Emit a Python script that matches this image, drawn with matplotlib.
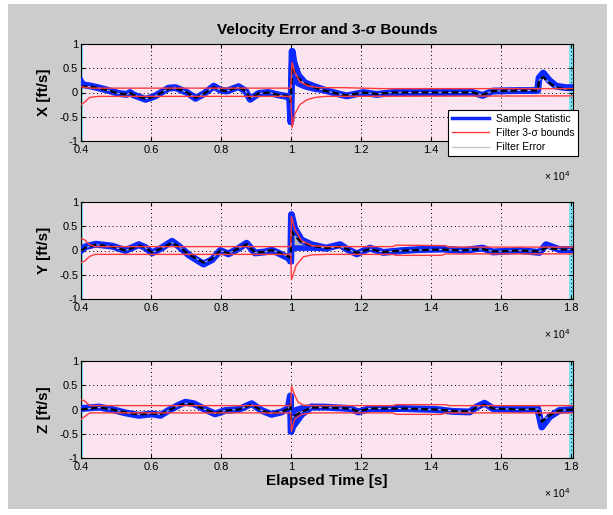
import numpy as np
import matplotlib.pyplot as plt
from matplotlib.patches import Rectangle

plt.rcParams['font.family'] = ['Liberation Sans', 'DejaVu Sans']

# ---- X channel ----
t_x = [4000, 4050, 4300, 4700, 5080, 5300, 5400, 5500, 5840, 6100, 6500, 6700, 7030, 7270, 7500,
       7790, 7980, 8160, 8500, 8700, 8830, 9070, 9350, 9640, 9870, 9960, 9990, 10030, 10080, 10200,
       10390, 10670, 10950, 11300, 11590, 12060, 12440, 12920, 13670, 14600, 15190, 15470, 15760,
       16500, 17040, 17080, 17200, 17370, 17570, 17850, 18050]
x_stat = [0.22, 0.16, 0.13, 0.06, -0.02, -0.04, 0.0, -0.05, -0.14, -0.08, 0.09, 0.10, 0.0, -0.12, -0.03,
          0.13, 0.05, 0.03, 0.12, 0.03, -0.14, -0.02, 0.0, -0.05, -0.08, -0.12, -0.6, 0.85, 0.62, 0.36,
          0.2, 0.12, 0.05, -0.02, -0.07, 0.0, -0.04, 0.0, 0.0, 0.0, 0.0, -0.06, 0.03,
          0.04, 0.04, 0.3, 0.4, 0.25, 0.13, 0.1, 0.1]
x_mean = [0.1, 0.12, 0.12, 0.06, -0.02, -0.04, -0.01, -0.05, -0.13, -0.08, 0.08, 0.09, 0.0, -0.11, -0.03,
          0.11, 0.05, 0.03, 0.11, 0.03, -0.12, -0.02, 0.0, -0.05, -0.07, -0.1, -0.2, 0.55, 0.45, 0.3,
          0.18, 0.1, 0.04, -0.02, -0.06, 0.0, -0.03, 0.0, 0.0, 0.0, 0.0, -0.05, 0.03,
          0.04, 0.04, 0.25, 0.32, 0.2, 0.1, 0.07, 0.07]
x_gap_t = [9990, 10010, 10030, 10080, 10200, 10390, 10670, 10950]
x_gap_lo = [-0.6, 0.3, 0.35, 0.28, 0.18, 0.12, 0.07, 0.04]
x_gap_hi = [-0.6, 0.5, 0.85, 0.62, 0.36, 0.2, 0.12, 0.05]
x_up_t = [4000, 4150, 4300, 9990, 10030, 10100, 10250, 10500, 10800, 11500, 12000, 12600, 18050]
x_up = [0.12, 0.1, 0.09, 0.09, 0.62, 0.42, 0.22, 0.13, 0.1, 0.1, 0.09, 0.08, 0.08]
x_lo_t = [4000, 4100, 4250, 4500, 9990, 10030, 10100, 10250, 10450, 10700, 11000, 18050]
x_lo = [-0.25, -0.2, -0.1, -0.08, -0.08, -0.72, -0.45, -0.25, -0.15, -0.1, -0.08, -0.07]

# ---- Y channel ----
t_y = [4000, 4130, 4420, 4890, 5270, 5650, 5840, 6030, 6320, 6600, 6790, 7075, 7500, 7740, 7975,
       8210, 8490, 8730, 8965, 9255, 9440, 9630, 9915, 9990, 10010, 10100, 10290, 10580, 11000, 11400,
       11590, 11875, 12250, 12630, 13200, 13680, 14330, 14900, 15470, 15760, 16520, 17090, 17280,
       17660, 18050]
y_stat = [0.0, 0.08, 0.13, 0.09, 0.0, 0.12, 0.06, -0.05, 0.06, 0.19, 0.09, -0.09, -0.28, -0.19, 0.0,
          -0.07, 0.04, 0.15, -0.05, -0.03, 0.01, -0.05, -0.15, -0.22, 0.74, 0.46, 0.22, 0.12, 0.05, 0.12,
          0.03, -0.07, 0.05, -0.04, 0.0, 0.02, 0.03, 0.0, 0.05, -0.03, 0.0, -0.04, 0.12,
          0.02, 0.02]
y_mean = [0.0, 0.06, 0.12, 0.08, 0.0, 0.1, 0.06, -0.04, 0.05, 0.16, 0.08, -0.08, -0.25, -0.17, 0.0,
          -0.06, 0.04, 0.13, -0.04, -0.03, 0.01, -0.04, -0.12, -0.15, 0.4, 0.3, 0.18, 0.1, 0.05, 0.08,
          0.03, -0.05, 0.03, -0.03, 0.0, 0.01, 0.02, 0.0, 0.03, -0.02, 0.0, -0.02, 0.06,
          0.02, 0.02]
y_gap_t = [9990, 10010, 10100, 10290, 10580, 11000]
y_gap_lo = [-0.22, 0.02, 0.05, 0.05, 0.05, 0.04]
y_gap_hi = [-0.22, 0.74, 0.46, 0.22, 0.12, 0.05]
y_up_t = [4000, 4100, 4250, 4400, 9990, 10010, 10100, 10300, 10600, 11000, 12900, 13000, 14400, 14500, 18050]
y_up = [0.25, 0.22, 0.12, 0.08, 0.08, 0.7, 0.45, 0.2, 0.1, 0.08, 0.08, 0.11, 0.1, 0.07, 0.07]
y_lo_t = [4000, 4100, 4250, 4400, 9990, 10010, 10150, 10350, 10600, 11000, 12900, 13000, 14300, 14400, 18050]
y_lo = [-0.25, -0.22, -0.12, -0.08, -0.08, -0.6, -0.3, -0.13, -0.09, -0.08, -0.08, -0.1, -0.1, -0.07, -0.07]

# ---- Z channel ----
t_z = [4000, 4510, 4890, 5270, 5650, 6030, 6270, 6500, 6790, 6980, 7220, 7550, 7830, 8120, 8500,
       8875, 9160, 9440, 9730, 9915, 9980, 10000, 10050, 10300, 10580, 10950, 11680, 11920, 12250, 13200,
       14150, 14620, 15100, 15290, 15525, 15760, 16520, 17040, 17160, 17380, 17660, 18050]
z_stat = [0.02, 0.05, 0.0, -0.07, -0.12, -0.09, -0.12, -0.02, 0.09, 0.15, 0.12, 0.0, -0.09, -0.02, 0.0,
          0.12, -0.02, -0.1, -0.05, 0.02, 0.28, -0.45, -0.35, -0.1, 0.05, 0.05, 0.02, -0.05, 0.02, 0.02,
          0.0, -0.04, -0.05, 0.05, 0.13, 0.02, 0.0, 0.02, -0.36, -0.15, -0.02, 0.0]
z_mean = [0.0, 0.04, 0.0, -0.06, -0.1, -0.08, -0.1, -0.02, 0.08, 0.13, 0.1, 0.0, -0.08, -0.02, 0.0,
          0.1, -0.02, -0.08, -0.04, 0.01, 0.1, -0.2, -0.15, -0.05, 0.04, 0.04, 0.02, -0.04, 0.02, 0.02,
          0.0, -0.03, -0.04, 0.04, 0.1, 0.02, 0.0, 0.01, -0.25, -0.12, -0.02, 0.0]
z_gap_t = [10000, 10050, 10150, 10300, 10580]
z_gap_lo = [-0.45, -0.35, -0.22, -0.1, 0.05]
z_gap_hi = [-0.45, -0.05, 0.0, 0.03, 0.05]
z_up_t = [4000, 4100, 4250, 9990, 10010, 10100, 10200, 10350, 10600, 12900, 13000, 14400, 14500, 18050]
z_up = [0.2, 0.18, 0.08, 0.08, 0.48, 0.3, 0.15, 0.09, 0.08, 0.08, 0.1, 0.1, 0.08, 0.08]
z_lo_t = [4000, 4100, 4250, 9990, 10010, 10100, 10300, 10600, 12900, 13000, 14300, 14400, 18050]
z_lo = [-0.2, -0.15, -0.07, -0.07, -0.45, -0.2, -0.1, -0.07, -0.07, -0.1, -0.1, -0.07, -0.07]

xticks = [4000, 6000, 8000, 10000, 12000, 14000, 16000, 18000]
xtick_labels = ['0.4', '0.6', '0.8', '1', '1.2', '1.4', '1.6', '1.8']
yticks = [-1, -0.5, 0, 0.5, 1]
ytick_labels = ['-1', '-0.5', '0', '0.5', '1']

BLUE = '#0a28ff'
RED = '#ff3a3a'
GRAY = '#c8c8c8'
PINK = '#fbe4ef'
CYAN = '#7fe3f0'

fig = plt.figure(figsize=(6.13, 5.15), dpi=100, facecolor='white')
fig.patches.append(Rectangle((8 / 613, 1 - 509 / 515), 599 / 613, 505 / 515,
                             transform=fig.transFigure, facecolor='#cccccc',
                             edgecolor='none', zorder=-10))

left, width, height = 81 / 613, 492 / 613, 97 / 515
bottoms = [1 - 141 / 515, 1 - 299 / 515, 1 - 458 / 515]

panels = [
    ('X [ft/s]', t_x, x_stat, x_mean, x_gap_t, x_gap_lo, x_gap_hi, x_up_t, x_up, x_lo_t, x_lo),
    ('Y [ft/s]', t_y, y_stat, y_mean, y_gap_t, y_gap_lo, y_gap_hi, y_up_t, y_up, y_lo_t, y_lo),
    ('Z [ft/s]', t_z, z_stat, z_mean, z_gap_t, z_gap_lo, z_gap_hi, z_up_t, z_up, z_lo_t, z_lo),
]

axes = []
for b, (lab, t, st, mn, gt, glo, ghi, ut, up, lt, lo) in zip(bottoms, panels):
    ax = fig.add_axes([left, b, width, height], facecolor=PINK)
    ax.axvspan(4000, 4050, color=CYAN, lw=0, zorder=0)
    ax.axvspan(17930, 18050, color=CYAN, lw=0, zorder=0)
    ax.fill_between(gt, glo, ghi, color='#b4b4b4', lw=0, zorder=2)
    ax.plot(t, st, color=BLUE, lw=5.0, solid_joinstyle='round', zorder=3)
    ax.plot(gt, glo, color=BLUE, lw=4.0, zorder=3)
    ax.plot(gt, ghi, color=BLUE, lw=4.0, zorder=3)
    ax.plot(t, mn, color=GRAY, lw=0.6, zorder=4)
    ax.plot(t, mn, color='black', lw=1.6, ls=(0, (3, 1.5)), zorder=5)
    ax.plot(ut, up, color=RED, lw=1.0, zorder=6)
    ax.plot(lt, lo, color=RED, lw=1.0, zorder=6)

    ax.set_xlim(4000, 18050)
    ax.set_ylim(-1, 1)
    ax.set_xticks(xticks)
    ax.set_xticklabels(xtick_labels)
    ax.set_yticks(yticks)
    ax.set_yticklabels(ytick_labels)
    ax.tick_params(direction='in', top=True, right=True, labelsize=8, length=3, pad=2)
    ax.tick_params(axis='x', pad=3)
    ax.grid(True, color='black', ls=(0, (1, 3)), lw=0.7)
    for s in ax.spines.values():
        s.set_linewidth(0.8)
    ax.set_ylabel(lab, fontsize=11, fontweight='bold', labelpad=6)
    ax.text(0.995, -0.36, '× 10$^4$', transform=ax.transAxes, ha='right', va='center', fontsize=7.5)
    axes.append(ax)

# the legend sits over the last two tick labels of the top panel
for tl in axes[0].get_xticklabels()[-2:]:
    tl.set_visible(False)

axes[0].set_title('Velocity Error and 3-σ Bounds', fontsize=11, fontweight='bold', pad=7)
axes[2].set_xlabel('Elapsed Time [s]', fontsize=11, fontweight='bold', labelpad=1)

# legend for the top panel, hanging below its lower right corner
h1, = axes[0].plot([], [], color=BLUE, lw=2.5, label='Sample Statistic')
h2, = axes[0].plot([], [], color=RED, lw=1.0, label='Filter 3-σ bounds')
h3, = axes[0].plot([], [], color=GRAY, lw=1.0, label='Filter Error')
leg = fig.legend(handles=[h1, h2, h3], loc='upper left', bbox_to_anchor=(443 / 613, 1 - 105 / 515),
                 fontsize=7.5, frameon=True, fancybox=False, framealpha=1, edgecolor='black',
                 handlelength=3.6, borderpad=0.35, labelspacing=0.4, handletextpad=0.6)
leg.get_frame().set_linewidth(0.8)
leg.set_zorder(20)

fig.savefig('out.png', dpi=100, facecolor=fig.get_facecolor())
